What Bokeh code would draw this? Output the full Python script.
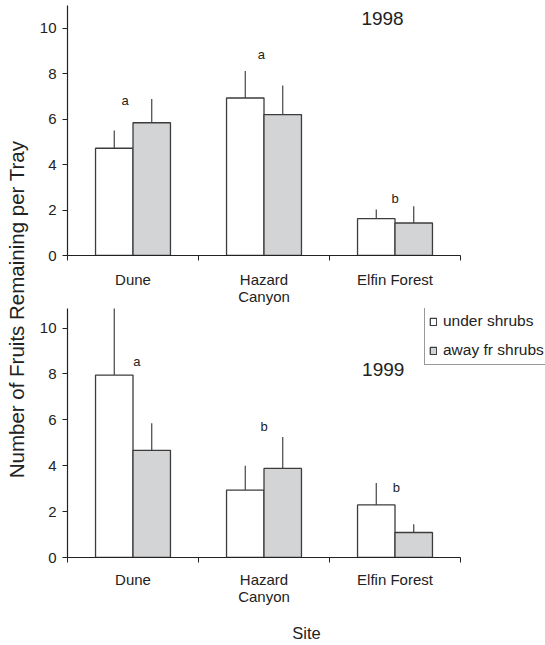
import math
import numpy as np
from bokeh.plotting import figure
from bokeh.models import Range1d, FixedTicker, Legend, LegendItem
from bokeh.layouts import row, column
from bokeh.embed import file_html
from bokeh.resources import INLINE
from bokeh.core.properties import value

# ---------------- data ----------------
sites = ["Dune", "Hazard\nCanyon", "Elfin Forest"]
series_labels = ["under shrubs", "away fr shrubs"]
y_label = "Number of Fruits Remaining per Tray"
x_label = "Site"
y_ticks = [0, 2, 4, 6, 8, 10]

year_1998 = "1998"
under_1998 = [4.72, 6.93, 1.62]
under_1998_err = [0.78, 1.19, 0.40]
away_1998 = [5.84, 6.20, 1.43]
away_1998_err = [1.05, 1.28, 0.74]
letters_1998 = ["a", "a", "b"]
letter_x_1998 = [0.44, 1.48, 2.50]
letter_y_1998 = [6.81, 8.86, 2.49]

year_1999 = "1999"
under_1999 = [7.95, 2.94, 2.29]
under_1999_err = [2.94, 1.06, 0.96]
away_1999 = [4.67, 3.88, 1.09]
away_1999_err = [1.18, 1.37, 0.36]
letters_1999 = ["a", "b", "b"]
letter_x_1999 = [0.53, 1.50, 2.51]
letter_y_1999 = [8.56, 5.69, 3.07]

# ---------------- style / layout ----------------
FONT = "Liberation Sans"
TXT = "#222222"
EDGE = "#3c3c3c"
GRAY = "#d3d4d6"
BW = 0.286
LAB_W = 32          # width of the strip holding the y label
PANEL_W = 513
MB_LEFT = 35
AXIS_PX = 393       # pixel length of the 3-category x axis
FRAME_W = PANEL_W - MB_LEFT
X_END = len(sites) * FRAME_W / AXIS_PX


def make_panel(under, under_err, away, away_err, letters, lx, ly,
               year, year_x, year_y, ymax, height, mb_top, mb_bottom,
               standoff, site_label):
    p = figure(width=PANEL_W, height=height,
               x_range=Range1d(0, X_END), y_range=Range1d(0, ymax),
               min_border_left=MB_LEFT, min_border_right=0,
               min_border_top=mb_top, min_border_bottom=mb_bottom,
               toolbar_location=None, output_backend="svg",
               background_fill_color="white", border_fill_color="white")
    p.outline_line_color = None
    p.grid.visible = False

    idx = np.arange(len(sites))
    centers = idx + 0.5
    ux = centers - BW / 2
    ax = centers + BW / 2
    under = np.array(under)
    away = np.array(away)

    ub = p.vbar(x=ux, width=BW, top=under, bottom=0,
                fill_color="white", line_color=EDGE, line_width=1.3)
    ab = p.vbar(x=ax, width=BW, top=away, bottom=0,
                fill_color=GRAY, line_color=EDGE, line_width=1.3)
    p.segment(x0=ux, y0=under, x1=ux, y1=under + np.array(under_err),
              line_color="#444444", line_width=1.2)
    p.segment(x0=ax, y0=away, x1=ax, y1=away + np.array(away_err),
              line_color="#444444", line_width=1.2)

    p.text(x=lx, y=ly, text=letters, text_align="center",
           text_baseline="middle", text_font=value(FONT),
           text_font_size="13px", text_color=TXT)
    p.text(x=[year_x], y=[year_y], text=[year], text_align="center",
           text_baseline="middle", text_font=value(FONT),
           text_font_size="19px", text_color=TXT)

    # x axis: labels at category centres, ticks at category borders
    xa = p.xaxis[0]
    xa.bounds = (0, len(sites))
    xa.ticker = FixedTicker(ticks=list(centers),
                            minor_ticks=[float(i) for i in range(len(sites) + 1)])
    xa.major_label_overrides = {float(c): s for c, s in zip(centers, sites)}
    xa.major_tick_out = 0
    xa.major_tick_in = 0
    xa.minor_tick_out = 5
    xa.minor_tick_in = 0
    xa.minor_tick_line_color = "#222222"
    xa.axis_line_color = "#222222"
    xa.axis_line_width = 1.2
    xa.major_label_standoff = standoff
    xa.major_label_text_font = FONT
    xa.major_label_text_font_size = "15px"
    xa.major_label_text_line_height = 1.03
    xa.major_label_text_color = TXT
    if site_label:
        xa.axis_label = x_label
        xa.axis_label_text_font = FONT
        xa.axis_label_text_font_size = "16.5px"
        xa.axis_label_text_font_style = "normal"
        xa.axis_label_text_color = TXT
        xa.axis_label_standoff = 16

    ya = p.yaxis[0]
    ya.ticker = FixedTicker(ticks=y_ticks)
    ya.major_tick_out = 5
    ya.major_tick_in = 0
    ya.minor_tick_out = 0
    ya.minor_tick_in = 0
    ya.major_tick_line_color = "#222222"
    ya.axis_line_color = "#222222"
    ya.axis_line_width = 1.2
    ya.major_label_standoff = 6
    ya.major_label_text_font = FONT
    ya.major_label_text_font_size = "15px"
    ya.major_label_text_color = TXT
    return p, ub, ab


top, _, _ = make_panel(under_1998, under_1998_err, away_1998, away_1998_err,
                       letters_1998, letter_x_1998, letter_y_1998,
                       year_1998, 2.405, 10.44, 11.0, 308, 5, 51, 10, False)
bot, ub, ab = make_panel(under_1999, under_1999_err, away_1999, away_1999_err,
                         letters_1999, letter_x_1999, letter_y_1999,
                         year_1999, 2.41, 8.19, 10.85, 337, 0, 88, 8, True)

legend = Legend(items=[LegendItem(label=series_labels[0], renderers=[ub]),
                       LegendItem(label=series_labels[1], renderers=[ab])],
                location=(357, 192), margin=0, padding=4, spacing=9,
                glyph_width=8, glyph_height=9, label_standoff=6,
                label_height=20, label_text_font=FONT,
                label_text_font_size="15.5px", label_text_color=TXT,
                border_line_color="#333333", border_line_width=1,
                background_fill_color="white", background_fill_alpha=1.0)
bot.add_layout(legend)

lab = figure(width=LAB_W, height=645, x_range=Range1d(0, LAB_W),
             y_range=Range1d(645, 0), min_border=0,
             x_axis_location=None, y_axis_location=None,
             toolbar_location=None, output_backend="svg")
lab.outline_line_color = None
lab.grid.visible = False
lab.text(x=[16], y=[309], text=[y_label], angle=math.pi / 2,
         text_align="center", text_baseline="middle",
         text_font=value(FONT), text_font_size="20.5px", text_color=TXT)

layout = row(lab, column(top, bot, spacing=0), spacing=0)
open("out.html", "w").write(file_html(layout, INLINE))
